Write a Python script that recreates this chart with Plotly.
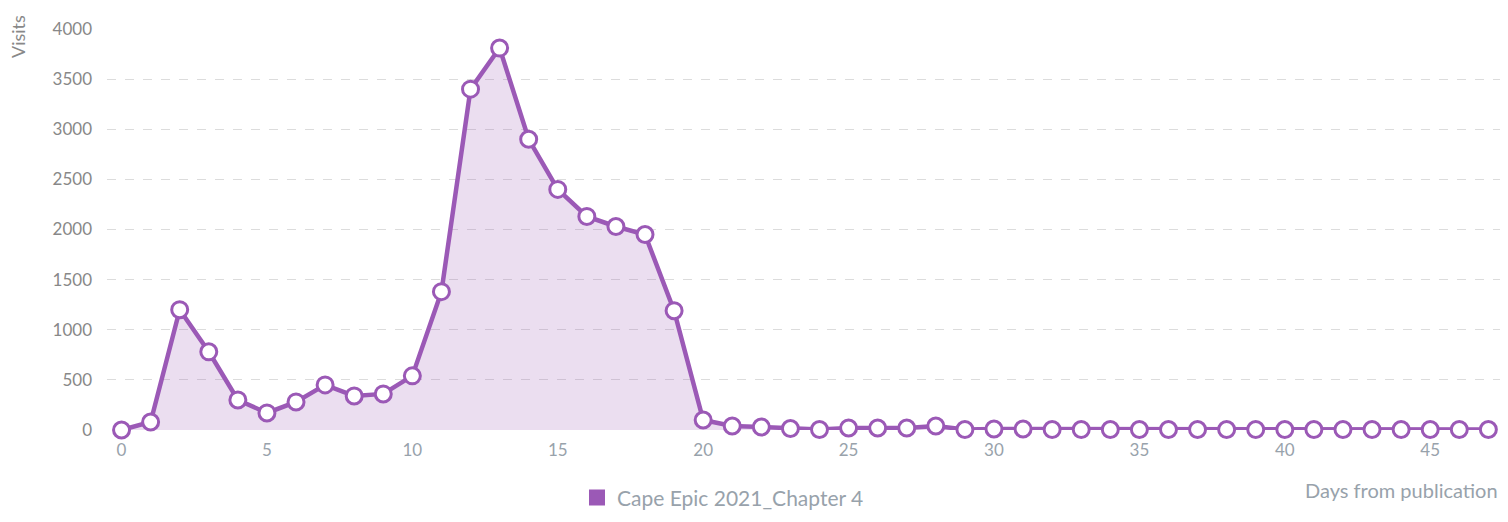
import plotly.graph_objects as go

days = list(range(48))
visits = [0, 80, 1200, 780, 300, 170, 280, 450, 340, 360,
          540, 1380, 3400, 3810, 2900, 2400, 2130, 2030, 1950, 1190,
          100, 40, 30, 15, 5, 20, 20, 20, 40, 5,
          10, 10, 5, 5, 5, 5, 5, 5, 5, 5,
          5, 5, 5, 5, 5, 5, 5, 5]
series_name = "Cape Epic 2021_Chapter 4"
x_ticks = [0, 5, 10, 15, 20, 25, 30, 35, 40, 45]
y_ticks = [0, 500, 1000, 1500, 2000, 2500, 3000, 3500, 4000]

purple = "#9b59b6"
font_family = "Lato, 'Source Sans Pro', 'Noto Sans', sans-serif"

fig = go.Figure()
fig.add_trace(go.Scatter(
    x=days, y=visits, mode="lines+markers",
    line=dict(color=purple, width=4.5),
    marker=dict(size=16, color="white", line=dict(color=purple, width=3)),
    fill="tozeroy", fillcolor="rgba(155,89,182,0.2)",
    cliponaxis=False, showlegend=False, name=series_name,
))
fig.add_trace(go.Scatter(
    x=[None], y=[None], mode="markers", name=series_name,
    marker=dict(symbol="square", size=17, color=purple),
    showlegend=True,
))

# page has an 8px body margin, so the figure is sized/offset to compensate
fig.update_layout(
    width=1500, height=506,
    margin=dict(l=99, r=8, t=21, b=84, autoexpand=False),
    paper_bgcolor="white", plot_bgcolor="white",
    font=dict(family=font_family, size=17, color="#888"),
    xaxis=dict(range=[-0.5, 47.4], tickvals=x_ticks, showgrid=False,
               zeroline=False, showline=False, ticks="", automargin=False,
               tickfont=dict(color="#98a2ab", size=17), ticklabelstandoff=8),
    yaxis=dict(range=[0, 4000], tickvals=y_ticks, showgrid=True,
               gridcolor="#dcdcdc", griddash="dash", gridwidth=1,
               zeroline=False, showline=False, ticks="", automargin=False,
               tickfont=dict(color="#888", size=17), ticklabelstandoff=14),
    legend=dict(orientation="h", x=0.3374, xanchor="left", y=-0.118,
                yanchor="top", font=dict(size=21, color="#98a2ab"),
                itemwidth=30),
    annotations=[
        dict(text="Visits", x=-0.0635, xref="paper", y=1.04, yref="paper",
             textangle=-90, showarrow=False, xanchor="center", yanchor="top",
             font=dict(size=18, color="#888")),
        dict(text="Days from publication", x=1.0, xref="paper", y=-0.115,
             yref="paper", showarrow=False, xanchor="right", yanchor="top",
             font=dict(size=20, color="#98a2ab")),
    ],
)

fig.write_html("out.html")
